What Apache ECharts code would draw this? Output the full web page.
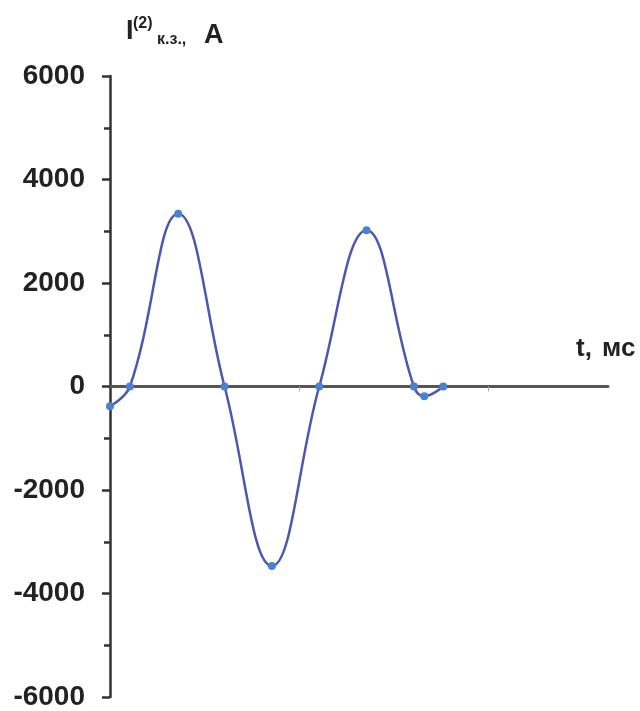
<!DOCTYPE html>
<html>
<head>
<meta charset="utf-8">
<script src="https://cdn.jsdelivr.net/npm/echarts@6/dist/echarts.min.js"></script>
<style>
html,body{margin:0;padding:0;background:#fff;}
#chart{width:640px;height:711px;}
</style>
</head>
<body>
<div id="chart"></div>
<script>
// Time, ms
const timeMs = [0, 2.1, 7.2, 12.1, 17.1, 22.1, 27.1, 32.1, 33.2, 35.2];
// Current I(2) short-circuit, A
const currentA = [-380, 0, 3340, 0, -3470, 0, 3020, 0, -190, 0];
// Y axis labels shown
const yTickLabels = [-6000, -4000, -2000, 0, 2000, 4000, 6000];
// X axis tick positions (no labels)
const xTicks = [20, 40];

const FONT = 'Liberation Sans, Arial, sans-serif';
const chart = echarts.init(document.getElementById('chart'), null, {renderer: 'canvas'});
const points = timeMs.map((t, i) => [t, currentA[i]]);

chart.setOption({
  animation: false,
  backgroundColor: '#ffffff',
  grid: {left: 110, right: 32, top: 76, bottom: 9, containLabel: false},
  xAxis: {
    type: 'value',
    min: 0,
    max: 52.6,
    axisLine: {show: true, onZero: true, lineStyle: {color: '#555', width: 3}},
    axisTick: {show: true, customValues: xTicks, length: 5, inside: false, lineStyle: {color: '#aaa', width: 1}},
    axisLabel: {show: false},
    splitLine: {show: false}
  },
  yAxis: {
    type: 'value',
    min: -6000,
    max: 6000,
    interval: 2000,
    axisLine: {show: true, lineStyle: {color: '#333', width: 2.5}},
    axisTick: {show: true, length: 8, lineStyle: {color: '#333', width: 2.5}},
    minorTick: {show: true, splitNumber: 2, length: 6, lineStyle: {color: '#333', width: 2.5}},
    axisLabel: {
      show: true,
      margin: 25,
      fontSize: 28,
      fontWeight: 'bold',
      fontFamily: FONT,
      color: '#222',
      customValues: yTickLabels,
      formatter: v => String(v)
    },
    splitLine: {show: false}
  },
  graphic: [
    {type: 'text', left: 126, top: 18, style: {text: 'I', font: 'bold 27px ' + FONT, fill: '#222'}},
    {type: 'text', left: 133, top: 16, style: {text: '(2)', font: 'bold 16px ' + FONT, fill: '#222'}},
    {type: 'text', left: 157, top: 32, style: {text: 'к.з.,', font: 'bold 16px ' + FONT, fill: '#222'}},
    {type: 'text', left: 204, top: 22, style: {text: 'А', font: 'bold 27px ' + FONT, fill: '#222'}},
    {type: 'text', left: 576, top: 336, style: {text: 't,', font: 'bold 26px ' + FONT, fill: '#222'}},
    {type: 'text', left: 602, top: 336, style: {text: 'мс', font: 'bold 26px ' + FONT, fill: '#222'}}
  ],
  series: [{
    type: 'line',
    data: points,
    smooth: 0.42,
    symbol: 'circle',
    symbolSize: 8,
    itemStyle: {color: '#4a82d0'},
    lineStyle: {color: '#4d57ad', width: 2.5}
  }]
});
</script>
</body>
</html>
